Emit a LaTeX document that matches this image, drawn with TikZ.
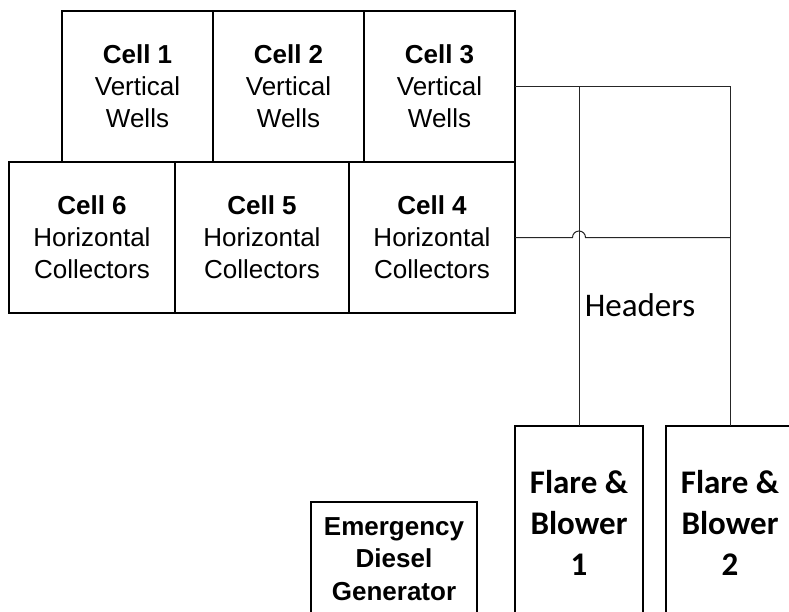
\documentclass[tikz,border=0pt]{standalone}
\usepackage{fontspec}
\setmainfont{Liberation Sans}
\newfontfamily\calib{Carlito}
\usetikzlibrary{calc}
\begin{document}
\begin{tikzpicture}[x=1pt,y=-1pt,
  cellbox/.style={draw=black, line width=1.6pt, rectangle, inner sep=0pt, outer sep=0pt,
     minimum height=151pt, align=center, font=\fontsize{26}{32}\selectfont},
  flarebox/.style={draw=black, line width=1.3pt, rectangle, inner sep=0pt, outer sep=0pt,
     minimum width=128pt, minimum height=194pt, align=center, font=\calib\bfseries\fontsize{33}{41}\selectfont},
  genbox/.style={draw=black, line width=1.3pt, rectangle, inner sep=0pt, outer sep=0pt,
     minimum width=166pt, minimum height=114pt, align=center, font=\bfseries\fontsize{26}{32.5}\selectfont},
  pipe/.style={draw=black!85, line width=1pt}]
\clip (0,0) rectangle (789,611);
\fill[white] (0,0) rectangle (789,611);
% top row
\node[cellbox, minimum width=151pt] (c1) at (137.5,86.5) {\textbf{Cell 1}\\Vertical\\Wells};
\node[cellbox, minimum width=151pt] (c2) at (288.5,86.5) {\textbf{Cell 2}\\Vertical\\Wells};
\node[cellbox, minimum width=151pt] (c3) at (439.5,86.5) {\textbf{Cell 3}\\Vertical\\Wells};
% bottom row
\node[cellbox, minimum width=166pt] (c6) at (92,237.5) {\textbf{Cell 6}\\Horizontal\\Collectors};
\node[cellbox, minimum width=174pt] (c5) at (262,237.5) {\textbf{Cell 5}\\Horizontal\\Collectors};
\node[cellbox, minimum width=166pt] (c4) at (432,237.5) {\textbf{Cell 4}\\Horizontal\\Collectors};
% flares
\node[flarebox] (f1) at (579,523) {Flare \&\\Blower\\1};
\node[flarebox] (f2) at (730,523) {Flare \&\\Blower\\2};
% generator
\node[genbox] (gen) at (394,559) {Emergency\\Diesel\\Generator};
% headers label
\node[font=\calib\fontsize{33}{40}\selectfont, inner sep=0pt] (hdr) at (640,305) {Headers};
% pipes
\draw[pipe] (c3.east) -| (f2.north);
\draw[pipe] (f1.north) -- (f1.north |- c3.east);
\draw[pipe] (c4.east) -- ($(f1.north |- c4.east)+(-6.5,0)$)
   arc[start angle=180, end angle=0, radius=6.5pt] -- (f2.north |- c4.east);
\end{tikzpicture}
\end{document}
